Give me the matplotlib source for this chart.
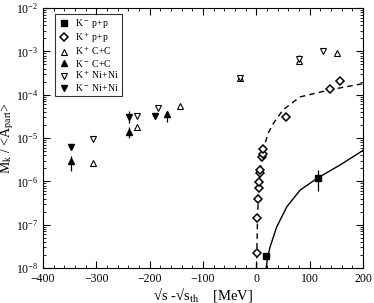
import numpy as np
import matplotlib
matplotlib.use("Agg")
import matplotlib.pyplot as plt
from matplotlib.ticker import MultipleLocator, LogLocator, NullFormatter

plt.rcParams['font.family'] = ['Liberation Serif', 'DejaVu Serif']
plt.rcParams['mathtext.fontset'] = 'stix'

# K- p+p (filled squares)
km_pp_x = [17.6, 115]
km_pp_y = [1.9e-8, 1.2e-6]
km_pp_lo = [1.9e-8, 6.0e-7]
km_pp_hi = [1.9e-8, 1.8e-6]

# K+ p+p (open diamonds)
kp_pp_x = [0.75, 1.9, 3.2, 4.5, 5.6, 6.9, 6.9, 10, 12, 13, 55.7, 138, 157]
kp_pp_y = [2.2e-8, 1.4e-7, 3.9e-7, 6.9e-7, 9.8e-7, 1.55e-6, 1.8e-6,
           3.7e-6, 4.3e-6, 5.6e-6, 3.0e-5, 1.35e-4, 2.1e-4]

# K+ C+C (open up triangles)
kp_cc_x = [-305.6, -224, -143.6, -30.6, 80, 150.7]
kp_cc_y = [2.7e-6, 1.8e-5, 5.6e-5, 2.4e-4, 6.0e-4, 9.3e-4]

# K- C+C (filled up triangles)
km_cc_x = [-347, -238, -167]
km_cc_y = [2.9e-6, 1.4e-5, 3.5e-5]
km_cc_lo = [1.75e-6, 9.8e-6, 2.3e-5]
km_cc_hi = [3.8e-6, 1.8e-5, 4.3e-5]

# K+ Ni+Ni (open down triangles)
kp_ni_x = [-305.6, -224, -183.7, -30.6, 80, 125.6]
kp_ni_y = [9.5e-6, 3.2e-5, 4.9e-5, 2.4e-4, 6.6e-4, 1.02e-3]
kp_ni_lo = [9.5e-6, 3.2e-5, 4.9e-5, 2.4e-4, 6.6e-4, 1.02e-3]
kp_ni_hi = [9.5e-6, 3.2e-5, 4.9e-5, 2.4e-4, 8.3e-4, 1.02e-3]

# K- Ni+Ni (filled down triangles)
km_ni_x = [-347, -238, -190.5]
km_ni_y = [6.3e-6, 3.1e-5, 3.2e-5]
km_ni_lo = [6.3e-6, 2.2e-5, 3.2e-5]
km_ni_hi = [6.3e-6, 4.1e-5, 3.2e-5]

# model curves
dash_x = [0.2, 0.8, 2, 3.5, 5, 7, 10, 13, 16.3, 22, 32, 50, 82, 138, 200]
dash_y = [1e-8, 2.5e-8, 1.4e-7, 4e-7, 8e-7, 1.7e-6, 3.6e-6, 5.8e-6, 7.6e-6,
          1.3e-5, 2.2e-5, 4.5e-5, 8.9e-5, 1.3e-4, 1.8e-4]
solid_x = [18.3, 21, 25.7, 38, 57, 82, 115, 157, 200]
solid_y = [1e-8, 1.8e-8, 3.1e-8, 8.9e-8, 2.6e-7, 6.3e-7, 1.2e-6, 2.4e-6, 5.2e-6]


def yerr(y, lo, hi):
    y = np.array(y)
    return [y - np.array(lo), np.array(hi) - y]


fig = plt.figure(figsize=(3.74, 3.03), dpi=100)
ax = fig.add_axes([0.115, 0.1155, 0.856, 0.858])

ax.plot(dash_x, dash_y, 'k--', lw=1.0, dashes=(4, 3))
ax.plot(solid_x, solid_y, 'k-', lw=1.0)

ms = 4.5
h1 = ax.errorbar(km_pp_x, km_pp_y, yerr=yerr(km_pp_y, km_pp_lo, km_pp_hi), fmt='s',
                 color='k', mfc='k', ms=ms, elinewidth=0.9, capsize=0)
h2, = ax.plot(kp_pp_x, kp_pp_y, 'D', mfc='white', mec='k', mew=1.1, ms=3.6)
h3, = ax.plot(kp_cc_x, kp_cc_y, '^', mfc='white', mec='k', mew=0.8, ms=ms)
h4 = ax.errorbar(km_cc_x, km_cc_y, yerr=yerr(km_cc_y, km_cc_lo, km_cc_hi), fmt='^',
                 color='k', mfc='k', ms=ms, elinewidth=0.9, capsize=0)
h5 = ax.errorbar(kp_ni_x, kp_ni_y, yerr=yerr(kp_ni_y, kp_ni_lo, kp_ni_hi), fmt='v',
                 color='k', mfc='white', mec='k', mew=0.8, ms=ms, elinewidth=0.9,
                 capsize=0)
h6 = ax.errorbar(km_ni_x, km_ni_y, yerr=yerr(km_ni_y, km_ni_lo, km_ni_hi), fmt='v',
                 color='k', mfc='k', ms=ms, elinewidth=0.9, capsize=0)

ax.set_yscale('log')
ax.set_xlim(-400, 200)
ax.set_ylim(1e-8, 1e-2)
ax.xaxis.set_major_locator(MultipleLocator(100))
ax.xaxis.set_minor_locator(MultipleLocator(20))
ax.yaxis.set_major_locator(LogLocator(base=10, numticks=10))
ax.yaxis.set_minor_locator(LogLocator(base=10, subs=np.arange(2, 10), numticks=20))
ax.yaxis.set_minor_formatter(NullFormatter())
ax.tick_params(which='both', direction='in', top=True, right=True, labelsize=8.5)
ax.tick_params(which='major', length=5, width=0.8)
ax.tick_params(which='minor', length=2.5, width=0.6)

ax.set_xlabel('\u221as -\u221as$_{\\rm th}$    [MeV]', fontsize=10.5)
ax.xaxis.set_label_coords(0.5, -0.064)
ax.set_ylabel(r'M$_{\rm k}$ / <A$_{\rm part}$>', fontsize=10)
ax.yaxis.set_label_coords(-0.085, 0.5)

handles = [h1[0], h2, h3, h4[0], h5[0], h6[0]]
labels = [r'K$^-$ p+p', r'K$^+$ p+p', r'K$^+$ C+C', r'K$^-$ C+C',
          r'K$^+$ Ni+Ni', r'K$^-$ Ni+Ni']
leg = ax.legend(handles, labels, loc='upper left', bbox_to_anchor=(0.0375, 0.977),
                borderaxespad=0, fontsize=7, frameon=True, fancybox=False,
                edgecolor='k', handlelength=1.2, handletextpad=0.6,
                labelspacing=0.05, borderpad=0.3)
leg.get_frame().set_linewidth(0.8)

fig.savefig('out.png', dpi=100)
